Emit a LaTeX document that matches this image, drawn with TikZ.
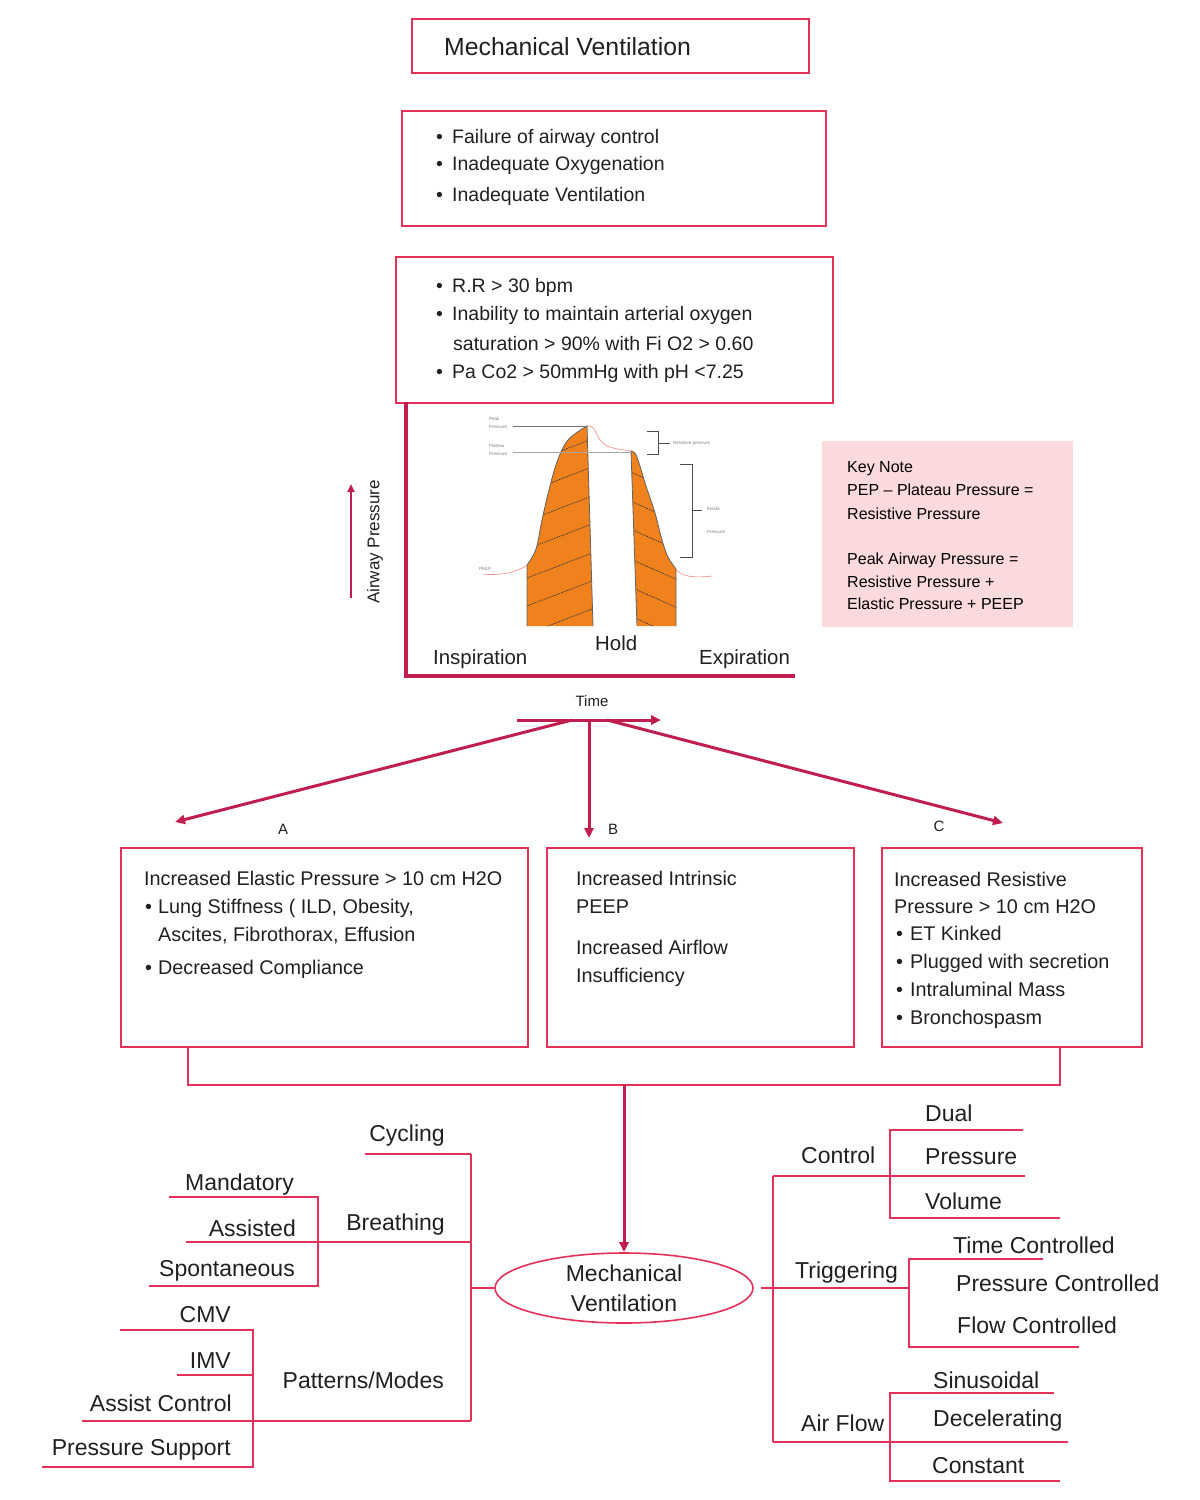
\documentclass[tikz,border=0pt]{standalone}
\usepackage{fontspec}
\setmainfont{Liberation Sans}
\usetikzlibrary{arrows.meta,shapes.geometric}
\definecolor{boxred}{HTML}{E5305A}
\definecolor{crim}{HTML}{C01E4E}
\definecolor{txt}{HTML}{231F20}
\definecolor{orng}{HTML}{F0821E}
\definecolor{keypink}{HTML}{FBDADB}
\definecolor{curvepink}{HTML}{F28A8A}
\definecolor{hatchc}{HTML}{3A3A3A}
\newcommand\fs[1]{\fontsize{#1}{#1}\selectfont}
\newcommand\bul[1]{\makebox[#1][l]{•}}
\begin{document}
\begin{tikzpicture}[x=1pt,y=-1pt,
  every node/.style={inner sep=0pt, text=txt},
  boxr/.style={draw=boxred, line width=1.6pt, anchor=north west},
  tl/.style={anchor=base west, font=\fs{19.5}},
  tb/.style={anchor=base west, font=\fs{19.8}},
  kn/.style={anchor=base west, font=\fs{16}, text=black},
  tiny/.style={anchor=west, font=\fs{4.5}, text=gray},
  lab/.style={font=\fs{15}},
  trw/.style={anchor=base west, font=\fs{23}},
  tre/.style={anchor=base east, font=\fs{23}},
  tree/.style={draw=boxred, line width=1.8pt},
  arr/.style={draw=crim, line width=3pt, -{Triangle[length=10pt,width=9pt]}},
  axisl/.style={draw=crim, line width=3.5pt},
  hatch/.style={draw=hatchc, line width=0.7pt, dash pattern=on 1.6pt off 1pt},
  edge/.style={draw=hatchc!80, line width=0.8pt},
  thinpink/.style={draw=curvepink, line width=0.6pt},
  brk/.style={draw=black!70, line width=0.8pt}
]
\useasboundingbox[fill=white] (0,0) rectangle (1200,1500);

% ---------- top boxes ----------
\node[boxr, minimum width=397, minimum height=54] (b1) at (411,18) {};
\node[anchor=base west, font=\fs{24.8}] (t1) at (444,55) {Mechanical Ventilation};

\node[boxr, minimum width=424, minimum height=115] (b2) at (401,110) {};
\node[tl] (b2a) at (436,143) {\bul{16pt}Failure of airway control};
\node[tl] (b2b) at (436,170) {\bul{16pt}Inadequate Oxygenation};
\node[tl] (b2c) at (436,201) {\bul{16pt}Inadequate Ventilation};

\node[boxr, minimum width=437, minimum height=146] (b3) at (395,256) {};
\node[tl] (b3a) at (436,292) {\bul{16pt}R.R > 30 bpm};
\node[tl] (b3b) at (436,320) {\bul{16pt}Inability to maintain arterial oxygen};
\node[tl] (b3c) at (453,350) {saturation > 90\% with Fi O2 > 0.60};
\node[tl] (b3d) at (436,378) {\bul{16pt}Pa Co2 > 50mmHg with pH <7.25};

% ---------- graph ----------
\coordinate (ax0) at (406,402);
\coordinate (axc) at (406,676);
\coordinate (ax1) at (795,676);
\draw[axisl] (ax0) -- (axc) -- (ax1);

\coordinate (ap0) at (351,598);
\coordinate (ap1) at (351,484);
\draw[draw=crim, line width=2.6pt, -{Triangle[length=8pt,width=7pt]}] (ap0) -- (ap1);
\node[rotate=90, font=\fs{17}] (aplab) at (375,542) {Airway Pressure};

% left (inspiration) shape
\begin{scope}
\clip (527,626) -- plot[smooth, tension=0.6] coordinates {(527,565) (536,549) (542,520) (549,490) (557,462) (568,440) (587,426)} -- (593,626) -- cycle;
\fill[orng] (500,400) rectangle (620,640);
\foreach \c in {634,606,578,549,521,492,464}
  \draw[hatch] (520,\c+2.7) -- (600,\c-28.1);
\end{scope}
\draw[edge] (527,626) -- plot[smooth, tension=0.6] coordinates {(527,565) (536,549) (542,520) (549,490) (557,462) (568,440) (587,426)} -- (593,626);

% right (expiration) shape
\begin{scope}
\clip (637,626) -- (631,451) -- plot[smooth, tension=0.6] coordinates {(631,451) (635,453) (639,463) (646,486) (655,513) (662,540) (668,557) (676,569)} -- (676,626) -- cycle;
\fill[orng] (620,440) rectangle (690,640);
\foreach \c in {473,502,530,560,588,617}
  \draw[hatch] (625,\c-3.6) -- (690,\c+25.6);
\end{scope}
\draw[edge] (637,626) -- (631,451) -- plot[smooth, tension=0.6] coordinates {(631,451) (635,453) (639,463) (646,486) (655,513) (662,540) (668,557) (676,569)} -- (676,626);

% pink pressure curve pieces
\draw[thinpink] (483,574) .. controls (500,576) and (518,572) .. (527,565);
\draw[thinpink] (587,426) .. controls (595,424) and (596,436) .. (601,441) .. controls (607,449) and (620,449) .. (631,451);
\draw[thinpink] (676,569) .. controls (681,577) and (695,578) .. (712,576);

% reference lines
\draw[draw=black!55, line width=0.6pt] (513,426) -- (588,426);
\draw[draw=black!35, line width=0.6pt] (513,452) -- (631,452);

% tiny labels
\node[tiny] (pk1) at (489,419) {Peak};
\node[tiny] (pk2) at (489,427) {Pressure};
\node[tiny] (pl1) at (489,446) {Plateau};
\node[tiny] (pl2) at (489,454) {Pressure};
\node[tiny] (peep) at (479,569) {PEEP};
\node[tiny] (rp) at (673,443) {Resistive pressure};
\node[tiny] (ep1) at (707,509) {Elastic};
\node[tiny] (ep2) at (707,532) {Pressure};

% brackets
\draw[brk] (647,431) -- (658,431) -- (658,454) -- (647,454);
\draw[brk] (658,443) -- (670,443);
\draw[brk] (680,464) -- (692,464) -- (692,557) -- (680,557);
\draw[brk] (692,510) -- (702,510);

\node[anchor=base west, font=\fs{20.4}] (insp) at (433,664) {Inspiration};
\node[anchor=base west, font=\fs{20.4}] (hold) at (595,650) {Hold};
\node[anchor=base west, font=\fs{20.4}] (expi) at (699,664) {Expiration};

% key note
\node[fill=keypink, anchor=north west, minimum width=251, minimum height=186] (key) at (822,441) {};
\node[kn] (k1) at (847,472) {Key Note};
\node[kn] (k2) at (847,495) {PEP – Plateau Pressure =};
\node[kn] (k3) at (847,519) {Resistive Pressure};
\node[kn] (k4) at (847,564) {Peak Airway Pressure =};
\node[kn] (k5) at (847,587) {Resistive Pressure +};
\node[kn] (k6) at (847,609) {Elastic Pressure + PEEP};

% ---------- time arrow & branches ----------
\node[lab, anchor=base] (time) at (592,706) {Time};
\coordinate (tm0) at (517,720);
\coordinate (tm1) at (661,720);
\draw[arr] (tm0) -- (tm1);
\coordinate (dA0) at (572,720);
\coordinate (dA1) at (175,822);
\coordinate (dB0) at (589,720);
\coordinate (dB1) at (589,838);
\coordinate (dC0) at (607,720);
\coordinate (dC1) at (1003,823);
\draw[arr] (dA0) -- (dA1);
\draw[arr] (dB0) -- (dB1);
\draw[arr] (dC0) -- (dC1);
\node[lab, anchor=base] (la) at (283,834) {A};
\node[lab, anchor=base] (lb) at (613,834) {B};
\node[lab, anchor=base] (lc) at (939,831) {C};

% ---------- A B C boxes ----------
\node[boxr, minimum width=407, minimum height=199] (bA) at (120,847) {};
\node[tb] (a1) at (144,885) {Increased Elastic Pressure > 10 cm H2O};
\node[tb] (a2) at (145,913) {\bul{13pt}Lung Stiffness ( ILD, Obesity,};
\node[tb] (a3) at (158,941) {Ascites, Fibrothorax, Effusion};
\node[tb] (a4) at (145,974) {\bul{13pt}Decreased Compliance};

\node[boxr, minimum width=307, minimum height=199] (bB) at (546,847) {};
\node[tb] (bb1) at (576,885) {Increased Intrinsic};
\node[tb] (bb2) at (576,913) {PEEP};
\node[tb] (bb3) at (576,954) {Increased Airflow};
\node[tb] (bb4) at (576,982) {Insufficiency};

\node[boxr, minimum width=260, minimum height=199] (bC) at (881,847) {};
\node[tb] (c1) at (894,886) {Increased Resistive};
\node[tb] (c2) at (894,913) {Pressure > 10 cm H2O};
\node[tb] (c3) at (896,940) {\bul{14pt}ET Kinked};
\node[tb] (c4) at (896,968) {\bul{14pt}Plugged with secretion};
\node[tb] (c5) at (896,996) {\bul{14pt}Intraluminal Mass};
\node[tb] (c6) at (896,1024) {\bul{14pt}Bronchospasm};

% collector
\coordinate (jA) at (188,1046);
\coordinate (jC) at (1060,1046);
\coordinate (hA) at (188,1085);
\coordinate (hC) at (1060,1085);
\coordinate (hM) at (624,1085);
\draw[tree] (jA) -- (hA) -- (hC) -- (jC);

% ---------- central ellipse ----------
\node[ellipse, draw=boxred, line width=1.6pt, minimum width=258, minimum height=70, align=center, font=\fs{23}] (mv) at (624,1288) {Mechanical\\[7pt]Ventilation};
\draw[arr] (hM) -- (mv.north);

% ---------- left tree ----------
\coordinate (lm) at (471,1288);
\coordinate (lt) at (471,1154);
\coordinate (lb2) at (471,1421);
\draw[tree] (mv.west) -- (lm);
\draw[tree] (lt) -- (lb2);
\draw[tree] (365,1154) -- (lt);
\node[tre] (cyc) at (445,1141) {Cycling};
\coordinate (br) at (471,1242);
\draw[tree] (186,1242) -- (br);
\node[tre] (brth) at (445,1230) {Breathing};
\draw[tree] (169,1197) -- (318,1197) -- (318,1286) -- (149,1286);
\node[tre] (mand) at (294,1190) {Mandatory};
\node[tre] (assi) at (296,1236) {Assisted};
\node[tre] (spon) at (295,1276) {Spontaneous};
\draw[tree] (82,1421) -- (lb2);
\node[tre] (patm) at (444,1388) {Patterns/Modes};
\draw[tree] (120,1330) -- (253,1330) -- (253,1467) -- (42,1467);
\draw[tree] (177,1375) -- (253,1375);
\node[tre] (cmv) at (231,1322) {CMV};
\node[tre] (imv) at (231,1368) {IMV};
\node[tre] (ac) at (232,1411) {Assist Control};
\node[tre] (ps) at (231,1455) {Pressure Support};

% ---------- right tree ----------
\coordinate (rm) at (773,1288);
\coordinate (rt) at (773,1176);
\coordinate (rb) at (773,1442);
\draw[tree] (mv.east) ++(7,0) -- (rm);
\draw[tree] (rt) -- (rb);
\draw[tree] (rt) -- (890,1176);
\node[trw] (ctrl) at (801,1163) {Control};
\draw[tree] (1023,1130) -- (890,1130) -- (890,1218) -- (1060,1218);
\draw[tree] (890,1176) -- (1025,1176);
\node[trw] (dual) at (925,1121) {Dual};
\node[trw] (pres) at (925,1164) {Pressure};
\node[trw] (vol) at (925,1209) {Volume};
\draw[tree] (rm) -- (909,1288);
\node[trw] (trig) at (795,1278) {Triggering};
\draw[tree] (1043,1259) -- (909,1259) -- (909,1347) -- (1079,1347);
\node[trw] (timc) at (953,1253) {Time Controlled};
\node[trw] (presc) at (956,1291) {Pressure Controlled};
\node[trw] (flowc) at (957,1333) {Flow Controlled};
\draw[tree] (rb) -- (890,1442);
\node[trw] (airf) at (801,1431) {Air Flow};
\draw[tree] (1054,1393) -- (890,1393) -- (890,1481) -- (1060,1481);
\draw[tree] (890,1442) -- (1068,1442);
\node[trw] (sinu) at (933,1388) {Sinusoidal};
\node[trw] (dece) at (933,1426) {Decelerating};
\node[trw] (cons) at (932,1473) {Constant};
\end{tikzpicture}
\end{document}
